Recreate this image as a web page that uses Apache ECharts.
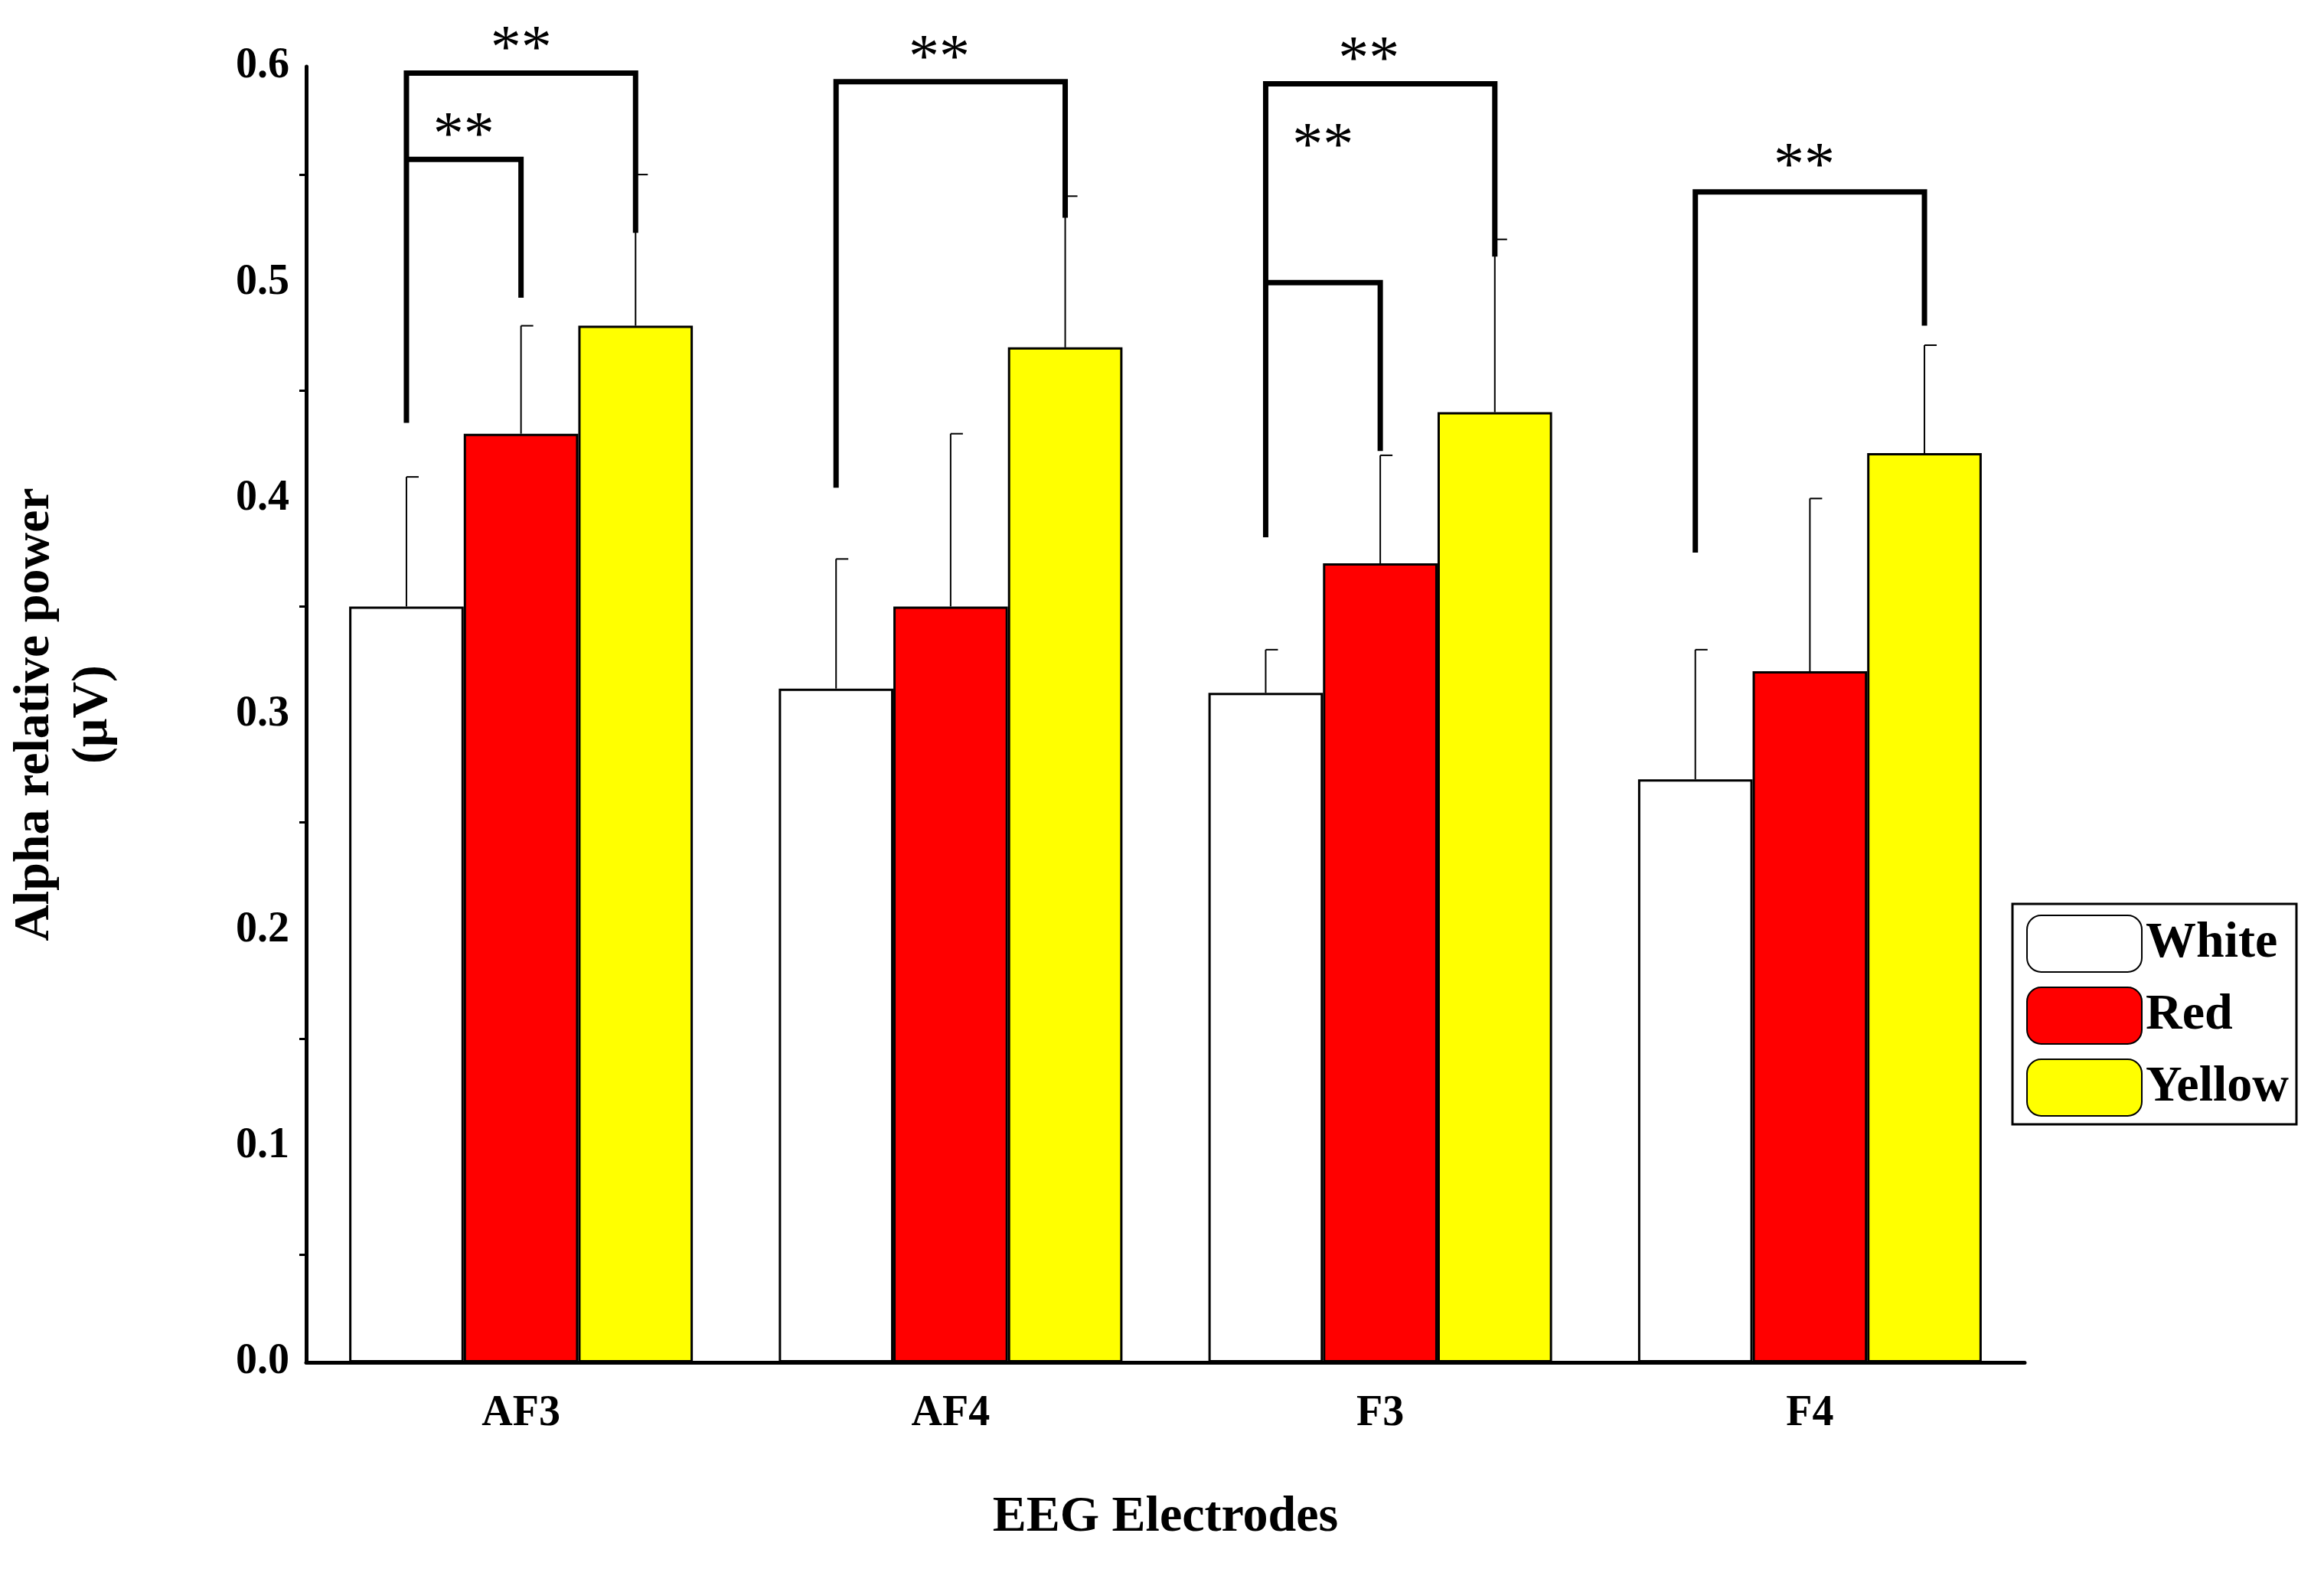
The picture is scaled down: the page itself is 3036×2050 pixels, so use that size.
<!DOCTYPE html>
<html><head><meta charset="utf-8">
<script src="https://cdn.jsdelivr.net/npm/echarts@6/dist/echarts.min.js"></script>
<style>html,body{margin:0;background:#fff}#main{width:3036px;height:2050px}</style>
</head><body><div id="main"></div>
<script>
var categories = ['AF3', 'AF4', 'F3', 'F4'];
var white = [0.35, 0.312, 0.31, 0.27];
var red = [0.43, 0.35, 0.37, 0.32];
var yellow = [0.48, 0.47, 0.44, 0.421];
var whiteUp = [0.41, 0.372, 0.33, 0.33];
var redUp = [0.48, 0.43, 0.42, 0.40];
var yellowUp = [0.55, 0.54, 0.52, 0.471];
// brackets: [category, fromBar, toBar, yFrom, yTop, yTo]
var brackets = [
  [0, 0, 2, 0.435, 0.597, 0.523],
  [0, 0, 1, 0.557, 0.557, 0.493],
  [1, 0, 2, 0.405, 0.593, 0.53],
  [2, 0, 2, 0.382, 0.592, 0.512],
  [2, 0, 1, 0.5, 0.5, 0.422],
  [3, 0, 2, 0.375, 0.542, 0.48]
];
// stars: [category, bar offset, y]
var stars = [
  [0, 1.0, 0.607], [0, 0.5, 0.567], [1, 0.9, 0.603],
  [2, 0.9, 0.602], [2, 0.5, 0.562], [3, 0.95, 0.553]
];

var font = 'Liberation Serif';
function barX(api, cat, bar) {
  var c = api.coord([cat, 0])[0];
  var w = api.size([1, 0])[0] * 0.8 / 3;
  return c + (bar - 1) * w;
}
function errSeries(up, bar) {
  return {
    type: 'custom', z: 1,
    data: up.map(function (v, i) { return [i, v, [white, red, yellow][bar][i]]; }),
    renderItem: function (p, api) {
      var x = barX(api, api.value(0), bar);
      var yt = api.coord([0, api.value(1)])[1];
      var yb = api.coord([0, api.value(2)])[1];
      return { type: 'group', children: [
        { type: 'line', shape: { x1: x, y1: yb, x2: x, y2: yt }, style: { stroke: '#000', lineWidth: 2 } },
        { type: 'line', shape: { x1: x, y1: yt, x2: x + 16, y2: yt }, style: { stroke: '#000', lineWidth: 2 } }
      ] };
    }
  };
}
var barStyle = function (c) { return { color: c, borderColor: '#000', borderWidth: 3 }; };

var chart = echarts.init(document.getElementById('main'));
chart.setOption({
  animation: false,
  textStyle: { fontFamily: font },
  grid: { left: 374, right: 391, top: 87, bottom: 270 },
  legend: {
    orient: 'vertical', right: 36, top: 1181,
    itemWidth: 150, itemHeight: 74, itemGap: 18,
    borderColor: '#000', borderWidth: 3, padding: [14, 10, 10, 18],
    textStyle: { fontFamily: font, fontWeight: 'bold', fontSize: 66, color: '#000' },
    data: ['White', 'Red', 'Yellow']
  },
  xAxis: {
    type: 'category', data: categories,
    name: 'EEG Electrodes', nameLocation: 'middle', nameGap: 170,
    nameTextStyle: { fontFamily: font, fontWeight: 'bold', fontSize: 66, color: '#000' },
    axisLine: { lineStyle: { color: '#000', width: 5 } },
    axisTick: { length: 14, lineStyle: { width: 4 } },
    axisLabel: { fontFamily: font, fontWeight: 'bold', fontSize: 56, color: '#000', margin: 40 }
  },
  yAxis: {
    type: 'value', min: 0, max: 0.6, interval: 0.1,
    name: 'Alpha relative power\n(μV)', nameLocation: 'middle', nameGap: 240,
    nameTextStyle: { fontFamily: font, fontWeight: 'bold', fontSize: 66, color: '#000', lineHeight: 76 },
    axisLine: { show: true, lineStyle: { color: '#000', width: 5 } },
    axisTick: { length: 16, lineStyle: { width: 4 } },
    minorTick: { show: true, splitNumber: 2, length: 9, lineStyle: { color: '#000', width: 3 } },
    splitLine: { show: false },
    axisLabel: { fontFamily: font, fontWeight: 'bold', fontSize: 56, color: '#000', margin: 22,
      formatter: function (v) { return v.toFixed(1); } }
  },
  series: [
    { name: 'White', type: 'bar', data: white, barGap: '0%', barCategoryGap: '20%', itemStyle: barStyle('#fff'), z: 2 },
    { name: 'Red', type: 'bar', data: red, itemStyle: barStyle('#ff0000'), z: 2 },
    { name: 'Yellow', type: 'bar', data: yellow, itemStyle: barStyle('#ffff00'), z: 2 },
    errSeries(whiteUp, 0), errSeries(redUp, 1), errSeries(yellowUp, 2),
    {
      type: 'custom', z: 5, data: brackets,
      renderItem: function (p, api) {
        var cat = api.value(0);
        var x1 = barX(api, cat, api.value(1)), x2 = barX(api, cat, api.value(2));
        var ya = api.coord([0, api.value(3)])[1], yt = api.coord([0, api.value(4)])[1], yb = api.coord([0, api.value(5)])[1];
        return { type: 'polyline', shape: { points: [[x1, ya], [x1, yt], [x2, yt], [x2, yb]] },
          style: { stroke: '#000', lineWidth: 7, fill: null } };
      }
    },
    {
      type: 'custom', z: 5, data: stars,
      renderItem: function (p, api) {
        var x = barX(api, api.value(0), api.value(1));
        var y = api.coord([0, api.value(2)])[1];
        return { type: 'text', x: x, y: y, style: { text: '**', fontFamily: font, fontSize: 80,
          fill: '#000', align: 'center', verticalAlign: 'middle' } };
      }
    }
  ]
});
</script></body></html>
